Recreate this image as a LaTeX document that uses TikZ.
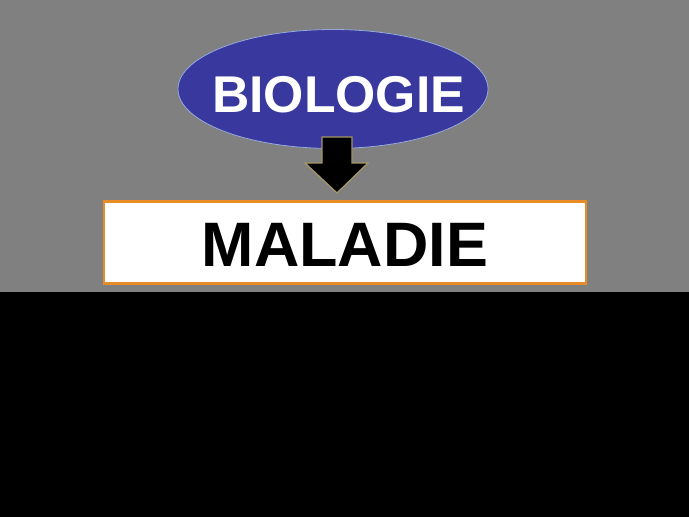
\documentclass[tikz,border=0pt]{standalone}
\usepackage{fontspec}
\setmainfont{Liberation Sans}
\usetikzlibrary{shapes.geometric}
\definecolor{bggray}{RGB}{128,128,128}
\definecolor{ellblue}{RGB}{56,56,158}
\definecolor{ellrim}{RGB}{150,170,220}
\definecolor{arrowrim}{RGB}{165,150,105}
\definecolor{boxorange}{RGB}{232,140,40}
\begin{document}
\begin{tikzpicture}[x=1pt,y=1pt,
  bubble/.style={ellipse,fill=ellblue,draw=ellrim,line width=0.8pt,minimum width=310pt,minimum height=119pt,inner sep=0pt},
  labelbox/.style={rectangle,fill=white,draw=boxorange,line width=2.5pt,minimum width=482pt,minimum height=82pt,inner sep=0pt},
  blockarrow/.style={fill=black,draw=arrowrim,line width=1.3pt,line join=miter},
  bigtext/.style={font=\fontsize{#1}{#1}\selectfont\bfseries,inner sep=0pt}]
\useasboundingbox (0,0) rectangle (689,-517);
\fill[bggray] (0,0) rectangle (689,-292);
\fill[black] (0,-292) rectangle (689,-517);
\node[bubble] (bio) at (333,-89) {};
\node[bigtext=51.7,text=white] (biot) at (338.5,-94.5) {BIOLOGIE};
\node[labelbox] (mal) at (345,-242.5) {};
\node[bigtext=62.8,text=black] (malt) at (345,-244.5) {MALADIE};
\draw[blockarrow]
  (322,-137) -- (352,-137) -- (352,-163) -- (368,-163) -- (337,-193) -- (305,-163) -- (322,-163) -- cycle;
\end{tikzpicture}
\end{document}
